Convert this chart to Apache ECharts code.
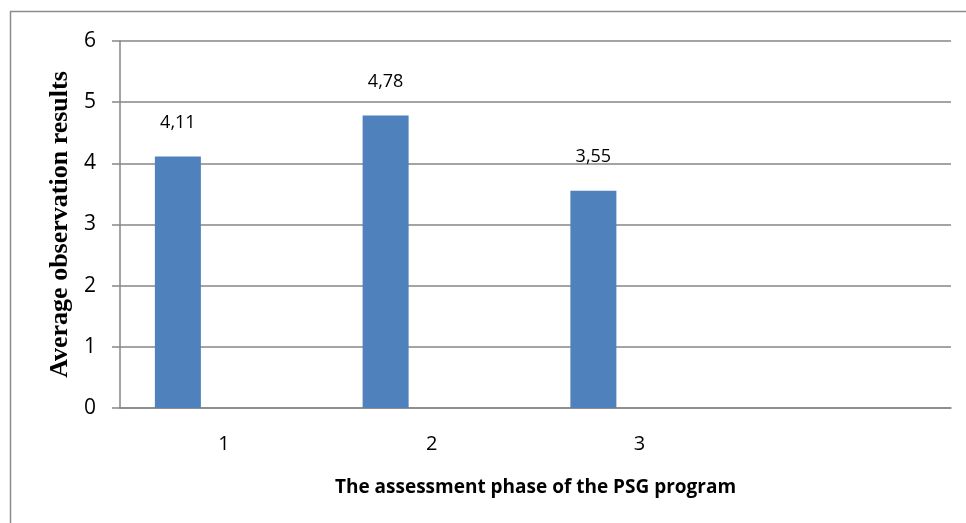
<!DOCTYPE html>
<html>
<head>
<meta charset="utf-8">
<script src="https://cdn.jsdelivr.net/npm/echarts@6/dist/echarts.min.js"></script>
<style>
  html, body { margin: 0; padding: 0; background: #fff; }
  #main { width: 966px; height: 523px; }
</style>
</head>
<body>
<div id="main"></div>
<script>
// phases on the x axis (the 4th slot is empty in the original)
const phases = ['1', '2', '3', ''];
const avgResults = [4.11, 4.78, 3.55, null];
const yTicks = [0, 1, 2, 3, 4, 5, 6];

let chart = echarts.init(document.getElementById('main'));

let option = {
  animation: false,
  backgroundColor: '#fff',
  textStyle: { fontFamily: 'Open Sans', color: '#000' },
  graphic: [
    {
      type: 'rect',
      shape: { x: 10.5, y: 11.5, width: 1200, height: 1000 },
      style: { fill: 'none', stroke: '#8c8c8c', lineWidth: 1.5 },
      silent: true
    }
  ],
  grid: { left: 120, right: 15, top: 41, bottom: 115 },
  xAxis: {
    type: 'category',
    data: phases,
    name: 'The assessment phase of the PSG program',
    nameLocation: 'middle',
    nameGap: 70,
    nameTextStyle: { fontFamily: 'Open Sans', fontWeight: 'bold', fontSize: 19, color: '#000' },
    axisLine: { lineStyle: { color: '#868686', width: 1.5 } },
    axisTick: { show: false },
    axisLabel: { fontSize: 20, color: '#000', margin: 26 }
  },
  yAxis: {
    type: 'value',
    min: yTicks[0],
    max: yTicks[yTicks.length - 1],
    interval: 1,
    name: 'Average observation results',
    nameLocation: 'middle',
    nameGap: 46,
    nameTextStyle: { fontFamily: 'Liberation Serif', fontWeight: 'bold', fontSize: 26, color: '#000' },
    axisLine: { show: true, lineStyle: { color: '#868686', width: 1.5 } },
    axisTick: { show: true, inside: false, length: 8, lineStyle: { color: '#868686', width: 1.5 } },
    splitLine: { lineStyle: { color: '#868686', width: 1.5 } },
    axisLabel: { fontSize: 21, color: '#000', margin: 24 }
  },
  series: [
    {
      type: 'bar',
      data: avgResults,
      barWidth: 46,
      barGap: '0%',
      itemStyle: { color: '#4F81BD' },
      label: {
        show: true,
        position: 'top',
        distance: 25,
        fontSize: 18,
        color: '#000',
        formatter: p => p.value.toFixed(2).replace('.', ',')
      }
    },
    // two empty series, like the original chart, which pushes the bars left
    { type: 'bar', data: [], barWidth: 46, barGap: '0%' },
    { type: 'bar', data: [], barWidth: 46, barGap: '0%' }
  ]
};

chart.setOption(option);
</script>
</body>
</html>
